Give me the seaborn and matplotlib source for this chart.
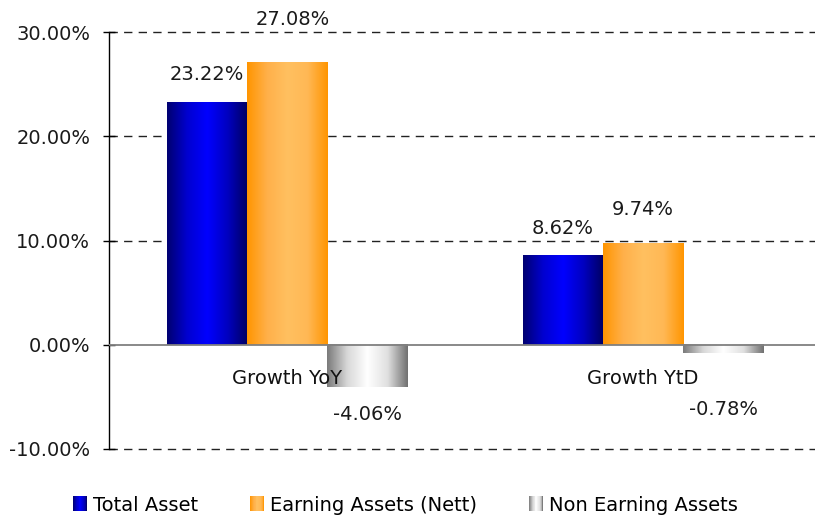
import matplotlib
matplotlib.use('Agg')
import matplotlib.pyplot as plt
import seaborn as sns
import pandas as pd
import numpy as np
from matplotlib.colors import LinearSegmentedColormap
from matplotlib.patches import Rectangle
from matplotlib.legend_handler import HandlerBase
from matplotlib.ticker import FuncFormatter

# data
categories = ['Growth YoY', 'Growth YtD']
series = ['Total Asset', 'Earning Assets (Nett)', 'Non Earning Assets']
total_asset = [23.22, 8.62]
earning_assets = [27.08, 9.74]
non_earning_assets = [-4.06, -0.78]

# label offsets (points) from bar end, per series / category, as in the original
label_offsets = {
    'Total Asset': [(0, 20), (0, 19)],
    'Earning Assets (Nett)': [(4, 31), (0, 24)],
    'Non Earning Assets': [(0, -20), (0, -41)],
}

df = pd.DataFrame({
    'category': categories * 3,
    'series': [s for s in series for _ in categories],
    'value': total_asset + earning_assets + non_earning_assets,
})

# cylinder-like gradients (Excel style)
cmaps = {
    'Total Asset': LinearSegmentedColormap.from_list(
        'blue', ['#000070', '#0000d0', '#0000ff', '#0000c0', '#000060']),
    'Earning Assets (Nett)': LinearSegmentedColormap.from_list(
        'orange', ['#ff9500', '#ffb04a', '#ffc060', '#ffb855', '#ff9500']),
    'Non Earning Assets': LinearSegmentedColormap.from_list(
        'grey', ['#7a7a7a', '#d8d8d8', '#ffffff', '#e0e0e0', '#707070']),
}
solid = {'Total Asset': '#0000cc', 'Earning Assets (Nett)': '#ffb050',
         'Non Earning Assets': '#c0c0c0'}

fig = plt.figure(figsize=(8.15, 5.17), dpi=100)
fig.patch.set_facecolor('white')
ax = fig.add_axes([109 / 815, 1 - 449 / 517, (821 - 109) / 815, (449 - 32) / 517])

sns.barplot(data=df, x='category', y='value', hue='series', order=categories,
            hue_order=series, palette=solid, width=0.675, dodge=True,
            legend=False, ax=ax, saturation=1)

grad = np.linspace(0, 1, 256).reshape(1, -1)
for name, cont in zip(series, ax.containers):
    for j, bar in enumerate(cont):
        x0 = bar.get_x()
        x1 = x0 + bar.get_width()
        y0 = bar.get_y()
        y1 = y0 + bar.get_height()
        ax.imshow(grad, cmap=cmaps[name], extent=[x0, x1, min(y0, y1), max(y0, y1)],
                  aspect='auto', zorder=2, interpolation='bicubic')
        bar.set_visible(False)
        val = bar.get_height()
        dx, dy = label_offsets[name][j]
        ax.annotate(f'{val:.2f}%', xy=((x0 + x1) / 2, y1), xytext=(dx, dy),
                    textcoords='offset points', ha='center', va='center',
                    fontsize=14, color='#1a1a1a')

ax.set_xlim(-0.5, 1.5)
ax.set_ylim(-10, 30)
ax.set_yticks([-10, 0, 10, 20, 30])
ax.yaxis.set_major_formatter(FuncFormatter(lambda v, p: f'{v:.2f}%'))
ax.tick_params(axis='y', direction='inout', length=9, width=1, labelsize=14,
               colors='black', labelcolor='#1a1a1a', pad=9)
ax.set_xticks([])
ax.set_xlabel('')
ax.set_ylabel('')
for s in ['top', 'right', 'bottom']:
    ax.spines[s].set_visible(False)
ax.spines['left'].set_color('black')
ax.spines['left'].set_linewidth(1)

for v in [-10, 10, 20, 30]:
    ax.axhline(v, color='#222222', lw=1, ls=(0, (6, 4.5)), zorder=1, clip_on=False)
ax.axhline(0, color='#808080', lw=1.3, zorder=3)

for i, cat in enumerate(categories):
    ax.text(i, -3.2, cat, ha='center', va='center', fontsize=14, color='#111111',
            zorder=4)


class GradHandler(HandlerBase):
    def __init__(self, cmap):
        super().__init__()
        self.cmap = cmap

    def create_artists(self, legend, orig_handle, xdescent, ydescent, width,
                       height, fontsize, trans):
        n = 16
        return [Rectangle((-xdescent + width * i / n, -ydescent), width / n, height,
                          fc=self.cmap((i + 0.5) / n), ec='none', transform=trans)
                for i in range(n)]


handles = [Rectangle((0, 0), 1, 1, label=s) for s in series]
fig.legend(handles=handles, labels=series, loc='center',
           bbox_to_anchor=(0.4975, 0.023), ncol=3, frameon=False, fontsize=14,
           handlelength=0.72, handleheight=0.8, handletextpad=0.28,
           columnspacing=2.7,
           handler_map={h: GradHandler(cmaps[s]) for h, s in zip(handles, series)})

fig.savefig('out.png', dpi=100)
